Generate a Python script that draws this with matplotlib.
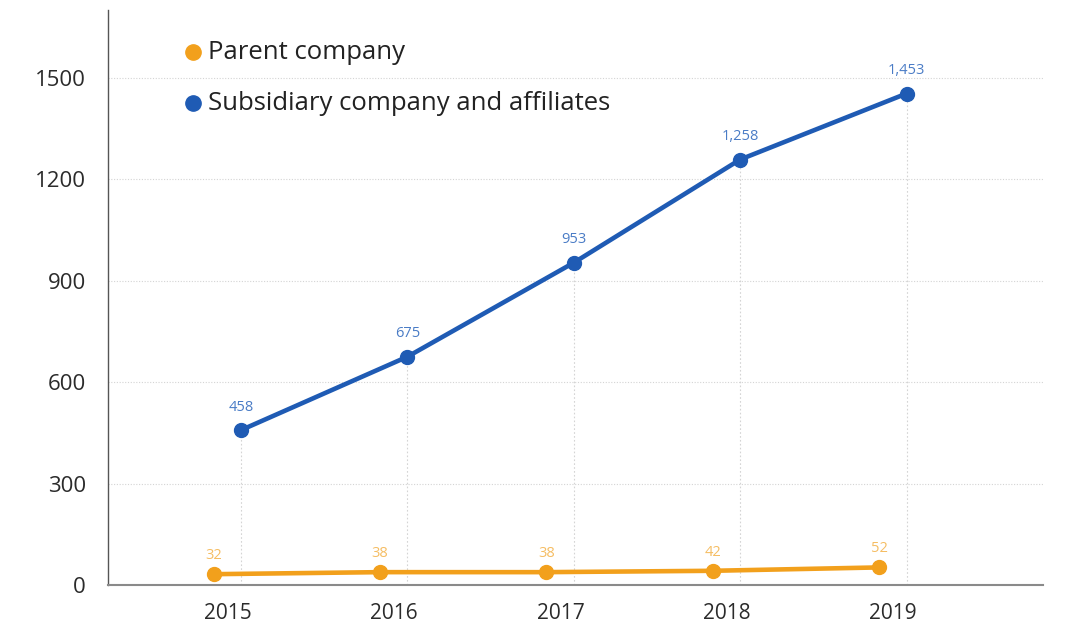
import numpy as np
import matplotlib
matplotlib.use("Agg")
import matplotlib.pyplot as plt

plt.rcParams["font.family"] = ["Open Sans", "DejaVu Sans"]

# dados
anos = [2015, 2016, 2017, 2018, 2019]
controladora = [32, 38, 38, 42, 52]
subsidiarias = [458, 675, 953, 1258, 1453]
rotulos_sub = ["458", "675", "953", "1,258", "1,453"]
rotulos_ctrl = ["32", "38", "38", "42", "52"]
yticks = [0, 300, 600, 900, 1200, 1500]

AZUL = "#1f5bb4"
LARANJA = "#f2a01c"

fig = plt.figure(figsize=(10.65, 6.26), dpi=100)
ax = fig.add_axes([108 / 1065, (626 - 585) / 626, (1043 - 108) / 1065, (585 - 10) / 626])

x = np.array(anos, dtype=float)
x_ctrl = x - 0.165  # serie laranja deslocada para a esquerda

# grade horizontal pontilhada
for v in yticks[1:]:
    ax.axhline(v, color="#d4d4d4", lw=0.8, ls=(0, (1, 1.5)), zorder=1)
# linhas verticais de cada ano ate o ponto azul
ax.vlines(x, 0, subsidiarias, color="#d4d4d4", lw=0.8, ls=(0, (1.5, 2)), zorder=1)

ax.plot(x, subsidiarias, color=AZUL, lw=3.3, marker="o", ms=10, zorder=3)
ax.plot(x_ctrl, controladora, color=LARANJA, lw=3.3, marker="o", ms=10, zorder=3)

for xi, v, r in zip(x, subsidiarias, rotulos_sub):
    ax.annotate(r, (xi, v), xytext=(0, 11), textcoords="offset points",
                ha="center", va="bottom", fontsize=10.5, color="#4a7cc6")
for xi, v, r in zip(x_ctrl, controladora, rotulos_ctrl):
    ax.annotate(r, (xi, v), xytext=(0, 8), textcoords="offset points",
                ha="center", va="bottom", fontsize=10.5, color="#f5bd63")

ax.set_xlim(2014.2, 2019.82)
ax.set_ylim(0, 1700)
ax.set_xticks(x - 0.08)
ax.set_xticklabels([str(a) for a in anos])
ax.set_yticks(yticks)
ax.tick_params(axis="both", length=0, colors="#2b2b2b")
ax.tick_params(axis="x", pad=13, labelsize=15)
ax.tick_params(axis="y", pad=16, labelsize=16)

for s in ["top", "right"]:
    ax.spines[s].set_visible(False)
ax.spines["left"].set_color("#555555")
ax.spines["left"].set_linewidth(1.0)
ax.spines["bottom"].set_color("#8a8a8a")
ax.spines["bottom"].set_linewidth(1.5)

# legenda manual
ax.plot([2014.71], [1575], marker="o", ms=11, color=LARANJA, clip_on=False)
ax.text(2014.8, 1575, "Parent company", fontsize=18.5, va="center", color="#222222")
ax.plot([2014.71], [1425], marker="o", ms=11, color=AZUL, clip_on=False)
ax.text(2014.8, 1425, "Subsidiary company and affiliates", fontsize=18.5, va="center", color="#222222")

fig.savefig("out.png", dpi=100)
